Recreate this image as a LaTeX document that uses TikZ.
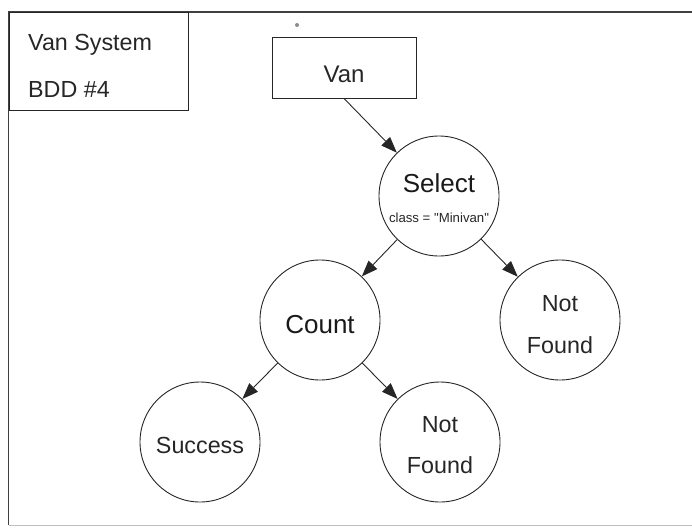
\documentclass[tikz,border=0pt]{standalone}
\usepackage{fontspec}
\setmainfont{Liberation Sans}
\usetikzlibrary{arrows.meta}
\begin{document}
\begin{tikzpicture}[x=1pt,y=-1pt,
  state/.style={draw=black!85, circle, minimum size=120pt, inner sep=0pt, line width=0.9pt},
  boxnode/.style={draw=black!85, rectangle, inner sep=0pt, line width=0.9pt},
  lbl/.style={anchor=base, inner sep=0pt, text=black!85, font=\fontsize{23.3}{23}\selectfont},
  biglbl/.style={anchor=base, inner sep=0pt, text=black!90, font=\fontsize{26}{26}\selectfont},
  smalllbl/.style={anchor=base, inner sep=0pt, text=black!85, font=\fontsize{13.2}{13}\selectfont},
  edge/.style={line width=0.9pt, draw=black!85, -{Triangle[length=16pt,width=12pt]}}]
\useasboundingbox (0,0) rectangle (692,527);

% page frame
\draw[line width=1.4pt, black!75] (8.5,525) -- (8.5,12) -- (692,12);
\draw[line width=0.8pt, black!25] (8.5,525) -- (692,525);

% title block
\node[boxnode, anchor=north west, minimum width=179.5pt, minimum height=98pt] (title) at (8.5,12) {};
\node[lbl, anchor=base west] (tline1) at (28,51) {Van System};
\node[lbl, anchor=base west] (tline2) at (28,97) {BDD \#4};

% small mark above the root
\fill[black!45] (297,25) circle (2pt);

% root box
\node[boxnode, minimum width=144pt, minimum height=61pt] (van) at (344,67.5) {};
\node[lbl, font=\fontsize{24}{24}\selectfont] (vantext) at (344,82) {Van};

% decision nodes
\node[state] (sel) at (439,196) {};
\node[biglbl] (seltext) at (439,192) {Select};
\node[smalllbl] (selcond) at (439,222) {class = \textquotedbl Minivan\textquotedbl};

\node[state] (cnt) at (320,320) {};
\node[biglbl] (cnttext) at (320,333) {Count};

% leaves
\node[state] (nf1) at (560,320) {};
\node[lbl] (nf1a) at (560,311) {Not};
\node[lbl] (nf1b) at (560,353) {Found};

\node[state] (succ) at (200,442) {};
\node[lbl] (succtext) at (200,453) {Success};

\node[state] (nf2) at (440,442) {};
\node[lbl] (nf2a) at (440,432) {Not};
\node[lbl] (nf2b) at (440,473) {Found};

% connectors
\draw[edge] (van.south) -- (sel);
\draw[edge] (sel) -- (cnt);
\draw[edge] (sel) -- (nf1);
\draw[edge] (cnt) -- (succ);
\draw[edge] (cnt) -- (nf2);
\end{tikzpicture}
\end{document}
